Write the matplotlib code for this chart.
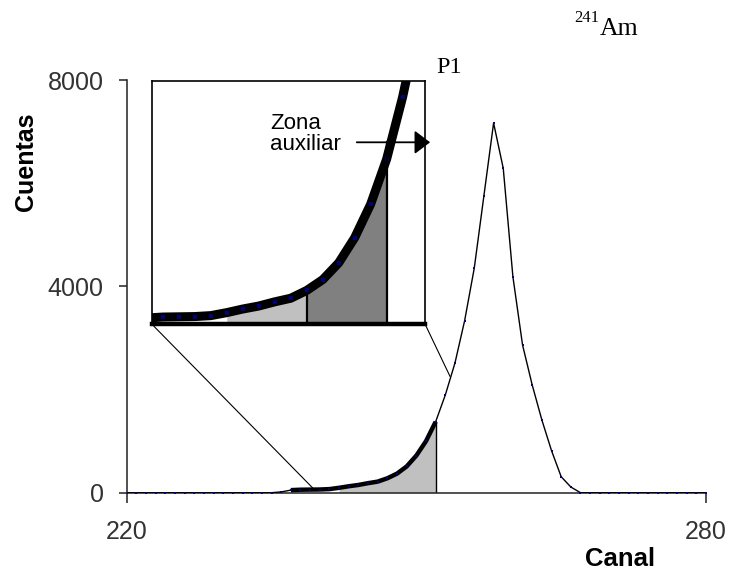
import matplotlib.pyplot as plt
import numpy as np
from matplotlib.patches import ConnectionPatch

# spectrum data (channel, counts)
canal = np.arange(220, 281)
cuentas = np.array([
    0, 0, 0, 0, 0, 0, 0, 0, 0, 0,              # 220-229
    0, 0, 0, 0, 0, 0, 15, 50, 58, 60,          # 230-239
    62, 70, 95, 125, 150, 185, 215, 280, 370, 510,   # 240-249
    720, 1000, 1376, 1894, 2514, 3334, 4354, 5760, 7166, 6288,  # 250-259
    4187, 2863, 2088, 1410, 815, 310, 110, 0, 0, 0,  # 260-269
    0, 0, 0, 0, 0, 0, 0, 0, 0, 0, 0,           # 270-280
])

# zones
tail_start, tail_end = 237, 252      # thick tail section
zona1 = (242, 247)                   # light grey zone
zona2 = (247, 252)                   # auxiliary zone (dark grey)
zoom_src_x = [239.3, 253.5]          # where the zoom box points to on the main curve
zoom_src_y = [85, 2250]

W, H = 729, 573
fig = plt.figure(figsize=(W / 100, H / 100), dpi=100)

def px(x, y):
    return x / W, 1 - y / H

# ---- main axes
ax = fig.add_axes([126.7 / W, 1 - 492.7 / H, (706 - 126.7) / W, (492.7 - 80) / H])
mask_fill = (canal >= zona1[0]) & (canal <= zona2[1])
ax.fill_between(canal[mask_fill], 0, cuentas[mask_fill], color='#c0c0c0', lw=0, zorder=1)
ax.plot([zona2[1], zona2[1]], [0, cuentas[canal == zona2[1]][0]], color='black', lw=1.0, zorder=2)
ax.plot(canal, cuentas, color='black', lw=1.0, zorder=3)
mt = (canal >= tail_start) & (canal <= tail_end)
ax.plot(canal[mt], cuentas[mt], color='black', lw=3.2, zorder=3, solid_capstyle='butt')
ax.plot(canal, cuentas, ls='none', marker='s', ms=1.8, mew=0, color='#000080', zorder=4)

ax.set_xlim(220, 280)
ax.set_ylim(0, 8000)
ax.set_xticks([220, 280])
ax.set_yticks([0, 4000, 8000])
for s in ['top', 'right']:
    ax.spines[s].set_visible(False)
for s in ['left', 'bottom']:
    ax.spines[s].set_linewidth(1.1)
    ax.spines[s].set_color('#222222')
ax.tick_params(axis='y', direction='out', length=6, width=1.1, pad=10.5,
               labelsize=18, labelcolor='#333333', color='#222222')
ax.tick_params(axis='x', direction='out', length=7.5, width=1.1, pad=12,
               labelsize=18, labelcolor='#333333', color='#222222')
for lab in ax.get_xticklabels() + ax.get_yticklabels():
    lab.set_family('Liberation Sans')

fig.text(*px(26, 162), 'Cuentas', rotation=90, ha='center', va='center',
         fontsize=18, fontweight='bold', family='Liberation Sans')
fig.text(*px(620, 559), 'Canal', ha='center', va='center',
         fontsize=18.5, fontweight='bold', family='Liberation Sans')

# ---- inset (zoom of the low-energy tail)
axin = fig.add_axes([151.7 / W, 1 - 324 / H, 273.3 / W, 243.3 / H])
axin.set_xlim(237.3, 254.4)
axin.set_ylim(0, 2030)
axin.set_xticks([])
axin.set_yticks([])
for s in ['left', 'top', 'right']:
    axin.spines[s].set_linewidth(1.2)
axin.spines['bottom'].set_linewidth(3.2)

m1 = (canal >= zona1[0]) & (canal <= zona1[1])
m2 = (canal >= zona2[0]) & (canal <= zona2[1])
axin.fill_between(canal[m1], 0, cuentas[m1], color='#c0c0c0', lw=0, zorder=1)
axin.fill_between(canal[m2], 0, cuentas[m2], color='#808080', lw=0, zorder=1)
axin.plot(canal, cuentas, color='black', lw=6.5, zorder=3, solid_capstyle='butt')
axin.plot(canal, cuentas, ls='none', marker='s', ms=3.0, mew=0, color='#000080', zorder=4)

y_flecha = 1516
axin.plot([zona1[1], zona1[1]], [0, cuentas[canal == zona1[1]][0]], color='black', lw=1.6, zorder=2)
axin.plot([zona2[1], zona2[1]], [0, y_flecha], color='black', lw=1.6, zorder=5)
axin.annotate('', xy=(254.72, y_flecha), xytext=(250.13, y_flecha),
              arrowprops=dict(arrowstyle='-|>,head_length=0.95,head_width=0.72',
                              color='black', lw=1.3, shrinkA=0, shrinkB=0),
              annotation_clip=False, zorder=6)
axin.text(244.7, 1585, 'Zona\nauxiliar', ha='left', va='center', fontsize=16,
          family='Liberation Sans', linespacing=1.0, zorder=6)

# connectors from inset corners to the main curve
for corner, xs, ys in [((0, 0), zoom_src_x[0], zoom_src_y[0]),
                       ((1, 0), zoom_src_x[1], zoom_src_y[1])]:
    con = ConnectionPatch(xyA=corner, coordsA=axin.transAxes,
                          xyB=(xs, ys), coordsB=ax.transData,
                          color='black', lw=0.8)
    fig.add_artist(con)

# labels
fig.text(*px(436, 72.7), 'P1', ha='left', va='baseline', fontsize=17.5,
         family='Liberation Serif')
fig.text(*px(574, 22), '241', ha='left', va='baseline', fontsize=12,
         family='Liberation Serif')
fig.text(*px(600, 35), 'Am', ha='left', va='baseline', fontsize=18.5,
         family='Liberation Serif')

fig.savefig('out.png', dpi=100)
